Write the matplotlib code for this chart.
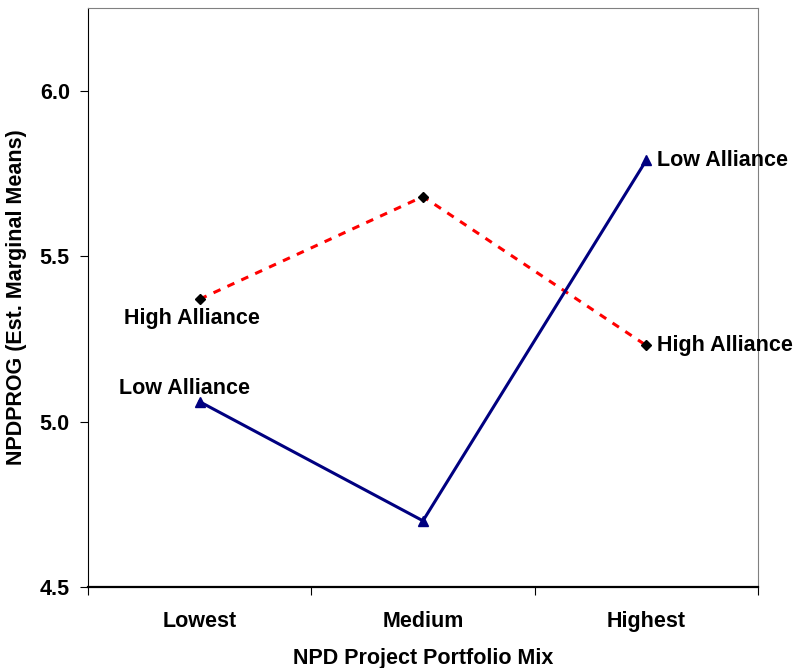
import matplotlib.pyplot as plt
from matplotlib.ticker import FixedLocator, NullFormatter

plt.rcParams['font.family'] = ['Liberation Sans', 'DejaVu Sans']
plt.rcParams['font.weight'] = 'bold'

categories = ["Lowest", "Medium", "Highest"]
low_alliance = [5.06, 4.70, 5.79]
high_alliance = [5.37, 5.68, 5.23]
y_ticks = [4.5, 5.0, 5.5, 6.0]

fig = plt.figure(figsize=(7.97, 6.68), dpi=100)
ax = fig.add_axes([0.1104, 0.1213, 0.8406, 0.8667])

x = list(range(len(categories)))
ax.plot(x, high_alliance, color="red", linestyle=(0, (2.5, 2.5)), linewidth=2.2,
        marker="D", markersize=5, markerfacecolor="black", markeredgecolor="black")
ax.plot(x, low_alliance, color="#000080", linestyle="-", linewidth=2.2,
        marker="^", markersize=7, markerfacecolor="#000080", markeredgecolor="#000080")

fs = 15.5
ax.text(x[0] - 0.036, high_alliance[0] - 0.058, "High Alliance", ha="center", va="center", fontsize=fs, fontweight="bold")
ax.text(x[0] - 0.067, low_alliance[0] + 0.04, "Low Alliance", ha="center", va="center", fontsize=fs, fontweight="bold")
ax.text(x[2] + 0.05, low_alliance[2], "Low Alliance", ha="left", va="center", fontsize=fs, fontweight="bold", clip_on=False)
ax.text(x[2] + 0.05, high_alliance[2], "High Alliance", ha="left", va="center", fontsize=fs, fontweight="bold", clip_on=False)

ax.set_xlim(-0.5, 2.5)
ax.set_ylim(4.5, 6.25)
ax.set_yticks(y_ticks)
ax.set_yticklabels([f"{v:.1f}" for v in y_ticks], fontsize=fs, fontweight="bold")

# category axis: ticks between categories, labels at centres
ax.xaxis.set_major_locator(FixedLocator([-0.5, 0.5, 1.5, 2.5]))
ax.xaxis.set_major_formatter(NullFormatter())
ax.xaxis.set_minor_locator(FixedLocator(x))
ax.set_xticklabels(categories, minor=True, fontsize=fs, fontweight="bold")
ax.tick_params(axis="x", which="major", direction="out", length=6, color="black")
ax.tick_params(axis="x", which="minor", length=0, pad=17.5)
ax.tick_params(axis="y", direction="out", length=6, pad=7)

for s in ["top", "right"]:
    ax.spines[s].set_color("#808080")
ax.spines["left"].set_color("black")
ax.spines["bottom"].set_color("black")
ax.spines["bottom"].set_linewidth(1.6)

ax.set_xlabel("NPD Project Portfolio Mix", fontsize=fs, fontweight="bold", labelpad=11)
ax.set_ylabel("NPDPROG (Est. Marginal Means)", fontsize=fs, fontweight="bold", labelpad=9)

fig.savefig("out.png", dpi=100)
